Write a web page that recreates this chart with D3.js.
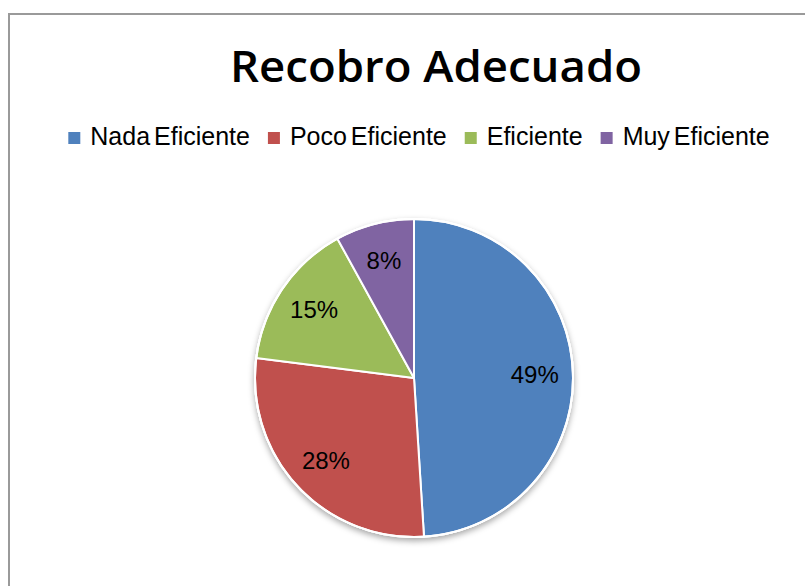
<!DOCTYPE html>
<html>
<head>
<meta charset="utf-8">
<script src="https://cdn.jsdelivr.net/npm/d3@7"></script>
<style>
  body { margin: 0; background: #fff; }
  svg { display: block; }
</style>
</head>
<body>
<div id="chart"></div>
<script>
const categories = ["Nada Eficiente", "Poco Eficiente", "Eficiente", "Muy Eficiente"];
const values = [49, 28, 15, 8];
const labels = ["49%", "28%", "15%", "8%"];
const colors = ["#4F81BD", "#C0504D", "#9BBB59", "#8064A2"];

const width = 805;
const height = 586;
const cx = 414, cy = 378, radius = 159;

const svg = d3
  .select("#chart")
  .append("svg")
  .attr("width", width)
  .attr("height", height)
  .attr("viewBox", [0, 0, width, height]);

const defs = svg.append("defs");
defs
  .append("filter")
  .attr("id", "shadow")
  .attr("x", "-20%")
  .attr("y", "-20%")
  .attr("width", "140%")
  .attr("height", "140%")
  .append("feDropShadow")
  .attr("dx", 0)
  .attr("dy", 3)
  .attr("stdDeviation", 3)
  .attr("flood-color", "#000")
  .attr("flood-opacity", 0.35);

// chart frame (only the top and left edges are in view)
svg
  .append("rect")
  .attr("x", 9)
  .attr("y", 14)
  .attr("width", 900)
  .attr("height", 700)
  .attr("fill", "none")
  .attr("stroke", "#9a9a9a")
  .attr("stroke-width", 2);

// title
svg
  .append("text")
  .attr("x", 436)
  .attr("y", 82)
  .attr("text-anchor", "middle")
  .attr("font-family", "'Open Sans', 'DejaVu Sans', sans-serif")
  .attr("font-weight", 600)
  .attr("font-size", 44)
  .attr("textLength", 412)
  .attr("lengthAdjust", "spacingAndGlyphs")
  .attr("fill", "#000")
  .text("Recobro Adecuado");

// legend
const legend = svg.append("g").attr("transform", "translate(0,145)");
const items = legend
  .selectAll("g")
  .data(categories)
  .join("g");

items
  .append("rect")
  .attr("y", -13)
  .attr("width", 12)
  .attr("height", 12)
  .attr("fill", (d, i) => colors[i]);

items
  .append("text")
  .attr("x", 22)
  .attr("font-family", "'Liberation Sans', Arial, sans-serif")
  .attr("font-size", 25)
  .attr("word-spacing", -3)
  .attr("fill", "#000")
  .text((d) => d);

let lx = 0;
const offsets = [];
items.each(function () {
  offsets.push(lx);
  lx += 22 + d3.select(this).select("text").node().getComputedTextLength() + 18;
});
const legendW = lx - 18;
const startX = 419 - legendW / 2;
items.attr("transform", (d, i) => `translate(${startX + offsets[i]},0)`);

// pie
const pie = d3.pie().sort(null).value((d) => d);
const arcs = pie(values);
const arc = d3.arc().innerRadius(0).outerRadius(radius);
const labelArc = d3.arc().innerRadius(radius * 0.76).outerRadius(radius * 0.76);

const g = svg.append("g").attr("transform", `translate(${cx},${cy})`);

g.append("circle")
  .attr("r", radius + 1)
  .attr("fill", "#fff")
  .attr("filter", "url(#shadow)");

g.selectAll("path")
  .data(arcs)
  .join("path")
  .attr("d", arc)
  .attr("fill", (d, i) => colors[i])
  .attr("stroke", "#fff")
  .attr("stroke-width", 2)
  .attr("stroke-linejoin", "round");

g.append("circle")
  .attr("r", radius)
  .attr("fill", "none")
  .attr("stroke", "#fff")
  .attr("stroke-width", 2);

g.selectAll("text.lbl")
  .data(arcs)
  .join("text")
  .attr("class", "lbl")
  .attr("transform", (d) => `translate(${labelArc.centroid(d)})`)
  .attr("text-anchor", "middle")
  .attr("dy", "0.35em")
  .attr("font-family", "'Liberation Sans', Arial, sans-serif")
  .attr("font-size", 24)
  .attr("fill", "#000")
  .text((d, i) => labels[i]);
</script>
</body>
</html>
